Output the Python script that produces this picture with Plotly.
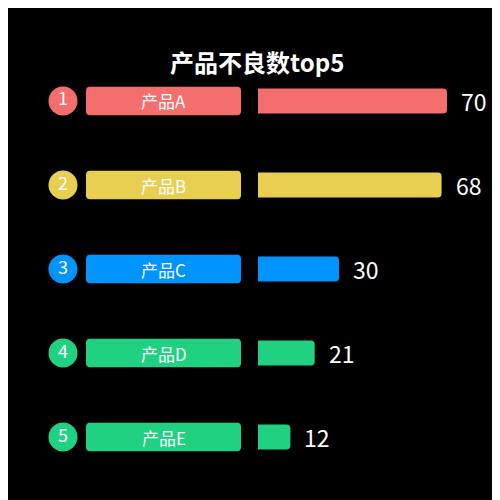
import plotly.graph_objects as go

products = ['产品A', '产品B', '产品C', '产品D', '产品E']
ranks = ['1', '2', '3', '4', '5']
defects = [70, 68, 30, 21, 12]
colors = ['#F56E6E', '#E8CF52', '#0094FF', '#1FD181', '#1FD181']

FONT = 'Noto Sans CJK SC, Microsoft YaHei, sans-serif'
rows = list(range(len(products)))

fig = go.Figure()

# rank circles
fig.add_trace(go.Scatter(
    x=[55] * len(rows), y=rows, mode='markers+text',
    marker=dict(size=29, color=colors, line=dict(width=0)),
    text=ranks, textposition='middle center',
    textfont=dict(color='white', size=18, family=FONT),
    xaxis='x', yaxis='y', hoverinfo='skip'))

# product label boxes
fig.add_trace(go.Bar(
    x=[155] * len(rows), base=78, y=rows, orientation='h', width=0.34,
    marker=dict(color=colors, cornerradius=4, line=dict(width=0)),
    xaxis='x', yaxis='y', hoverinfo='skip'))

# value bars
fig.add_trace(go.Bar(
    x=defects, y=rows, orientation='h', width=0.3,
    marker=dict(color=colors, cornerradius=4, line=dict(width=0)),
    xaxis='x2', yaxis='y', hoverinfo='skip'))

annotations = [dict(
    x=v, y=r, xref='x2', yref='y', text=str(v), showarrow=False,
    xanchor='left', xshift=12, font=dict(color='white', size=23, family=FONT))
    for v, r in zip(defects, rows)]
annotations += [dict(
    x=155.5, y=r, xref='x', yref='y', text=p, showarrow=False,
    font=dict(color='white', size=17, family=FONT))
    for p, r in zip(products, rows)]
annotations.append(dict(
    x=249 / 500, y=1 - 34 / 500, xref='paper', yref='paper',
    text='<b>产品不良数top5</b>', showarrow=False,
    font=dict(color='white', size=24, family=FONT)))

fig.update_layout(
    width=500, height=500,
    margin=dict(l=0, r=0, t=0, b=0),
    paper_bgcolor='black', plot_bgcolor='black',
    showlegend=False, barmode='overlay',
    xaxis=dict(domain=[0, 1], range=[0, 500], visible=False),
    xaxis2=dict(domain=[250 / 500, 1], range=[0, 250 / 2.7], visible=False),
    yaxis=dict(range=[4.845, -1.107], visible=False),
    annotations=annotations,
)

fig.write_html('out.html')
